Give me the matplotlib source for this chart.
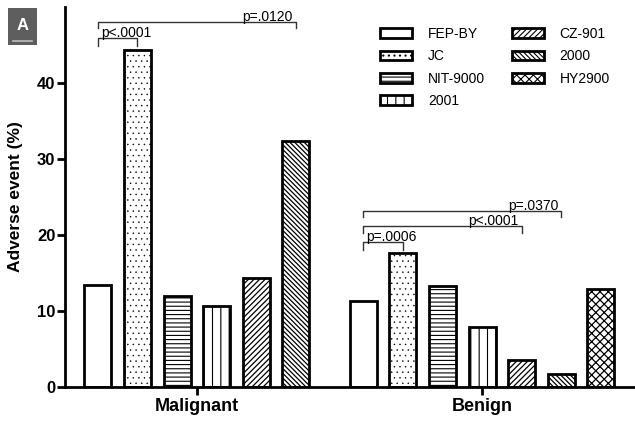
import numpy as np
import matplotlib.pyplot as plt
from matplotlib.patches import Rectangle
from matplotlib.lines import Line2D

plt.rcParams['font.family'] = ['Liberation Sans', 'DejaVu Sans']
plt.rcParams['hatch.linewidth'] = 0.8

# data
groups = ["Malignant", "Benign"]
devices = ["FEP-BY", "JC", "NIT-9000", "2001", "CZ-901", "2000", "HY2900"]
hatches = [None, "...", "----", "||", "//////", "\\\\\\\\\\\\\\", "xxxx"]
hatch_lw = [0.8, 0.3, 0.8, 0.8, 0.9, 0.9, 0.9]
malignant = [13.4, 44.4, 11.9, 10.6, 14.3, 32.3]
benign = [11.3, 17.6, 13.2, 7.8, 3.5, 1.7, 12.9]

# significance brackets: (group, bar a, bar b, y, p text, text side)
brackets = [
    (0, 0, 1, 45.9, "p<.0001", "left"),
    (0, 0, 5, 48.0, "p=.0120", "right"),
    (1, 0, 1, 19.0, "p=.0006", "left"),
    (1, 0, 4, 21.1, "p<.0001", "right"),
    (1, 0, 5, 23.1, "p=.0370", "right"),
]

centers = [0.0, 7.2]
width = 0.68

fig = plt.figure(figsize=(6.35, 4.21), dpi=100)
ax = fig.add_axes([65 / 635, 1 - 386.7 / 421, 570 / 635, 379.7 / 421])

xpos = []
for g, vals in enumerate([malignant, benign]):
    n = len(vals)
    xs = centers[g] + np.arange(n) - (n - 1) / 2
    xpos.append(xs)
    for i, v in enumerate(vals):
        with plt.rc_context({'hatch.linewidth': hatch_lw[i]}):
            ax.bar(xs[i], v, width=width, color="white", edgecolor="black",
                   linewidth=2, hatch=hatches[i], zorder=2)

# legend handles
handles = []
for i, h in enumerate(hatches):
    with plt.rc_context({'hatch.linewidth': hatch_lw[i]}):
        handles.append(Rectangle((0, 0), 1, 1, facecolor="white", edgecolor="black",
                                 linewidth=2, hatch=h))
leg = ax.legend(handles, devices, ncol=2, frameon=False, fontsize=10,
                loc="upper left", bbox_to_anchor=(0.553, 0.947),
                borderpad=0, borderaxespad=0, handlelength=2.3,
                handleheight=0.7, handletextpad=1.15, columnspacing=1.9,
                labelspacing=0.6)

for g, a, b, y, txt, side in brackets:
    x1 = xpos[g][a]
    x2 = xpos[g][b]
    drop = 1.0 if b == 1 else 0.8
    ax.plot([x1, x1, x2, x2], [y - drop, y, y, y - drop], color="#333333",
            linewidth=1.0, zorder=3)
    if side == "left":
        ax.text(x1 + 0.08, y + 0.2, txt, ha="left", va="baseline", fontsize=10)
    else:
        ax.text(x2 - 0.08, y + 0.2, txt, ha="right", va="baseline", fontsize=10)

ax.set_xlim(-3.33, 11.06)
ax.set_ylim(0, 50)
ax.set_yticks([0, 10, 20, 30, 40])
ax.set_xticks(centers)
ax.set_xticklabels(groups, fontsize=13, fontweight="bold")
for lab in ax.get_yticklabels():
    lab.set_fontsize(12)
    lab.set_fontweight("bold")
ax.tick_params(axis="y", length=6, width=2, pad=1)
ax.tick_params(axis="x", length=6, width=2, pad=2)
ax.spines["top"].set_visible(False)
ax.spines["right"].set_visible(False)
ax.spines["left"].set_linewidth(2)
ax.spines["bottom"].set_linewidth(2)
ax.set_ylabel("Adverse event (%)", fontsize=12.5, fontweight="bold")
ax.yaxis.set_label_coords(-0.074, 0.5)

# panel label box
fig.patches.append(Rectangle((8 / 635, 1 - 45 / 421), 29 / 635, 37 / 421,
                             transform=fig.transFigure, facecolor="#5e5e5e",
                             edgecolor="none"))
fig.text(22.5 / 635, 1 - 25 / 421, "A", color="white", fontsize=12,
         fontweight="bold", ha="center", va="center")
fig.lines.append(Line2D([13 / 635, 32 / 635], [1 - 41 / 421, 1 - 41 / 421],
                        transform=fig.transFigure, color="#bdbdbd", linewidth=1.2))

fig.savefig("out.png", dpi=100)
